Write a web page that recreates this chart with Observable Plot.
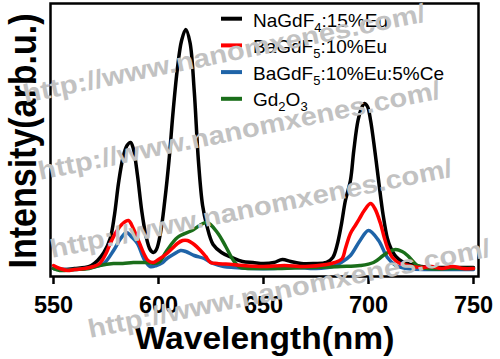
<!DOCTYPE html>
<html><head><meta charset="utf-8">
<script src="https://cdn.jsdelivr.net/npm/d3@7"></script>
<script src="https://cdn.jsdelivr.net/npm/@observablehq/plot@0.6"></script>
<style>
body{margin:0;background:#fff;}
#chart{position:relative;width:500px;height:359px;overflow:hidden;}
</style></head><body><div id="chart"></div>
<script>
// Series (wavelength nm, intensity a.u.)
const seriesNames = ["NaGdF4:15%Eu", "BaGdF5:10%Eu", "BaGdF5:10%Eu:5%Ce", "Gd2O3"];
const seriesColors = ["#000000", "#ff0000", "#1f64a8", "#1a6e1a"];
const legendParts = [["NaGdF", "4", ":15%Eu"], ["BaGdF", "5", ":10%Eu"], ["BaGdF", "5", ":10%Eu:5%Ce"], ["Gd", "2", "O", "3"]];

const naGdF4 = [[550,8],[555,7],[560,8],[565,9],[568,11],[571,16],[574,24],[577,38],[579,61],[581,94],[583,118],[585,131],[586.7,134],[588,128],[590,101],[592,66],[594,41],[596,27],[597.6,24],[599,27],[601,44],[603,76],[605,116],[607,166],[609,208],[611,236],[613,247],[615,234],[617,186],[619,116],[621,71],[623,51],[626,32],[630,24],[635,19],[640,15],[645,14],[650,13],[655,14],[659,17],[663,15],[668,13],[674,13],[680,14],[683,19],[685,31],[687,51],[689,76],[691.4,96],[693,126],[695,156],[697,170],[698,173],[699.5,170],[701,156],[703,126],[704.8,96],[707,61],[709,38],[710.5,29],[713,20],[716,15],[720,12],[725,10],[730,9],[740,9],[750,9]];
const baGdF5Eu = [[550,11],[553,8],[556.7,6],[560,7],[565,8],[569,10],[572,13],[575,23],[577,33],[580,45],[583,53],[585.7,56],[588,48],[591,33],[593,23],[595,16],[597.6,14],[600,17],[604,23],[607,29],[609,33],[611.5,36],[613.8,36],[617,32],[620,26],[622.5,20],[624.8,14],[628,13],[635,12],[640,11],[650,10],[660,11],[670,10],[680,12],[684,14],[687.5,18],[689,28],[691.4,43],[694,52],[696,59],[698,66],[701,73],[703,68],[705.7,53],[707.5,39],[709,29],[711.4,19],[715,13],[719,11],[725,9],[730,10],[735,8],[740,10],[745,8],[750,8]];
const baGdF5EuCe = [[550,8],[555,7],[560,7],[565,8],[570,10],[574,13],[578.6,26],[582,38],[584.8,44],[587,40],[590,33],[593,18],[596,10],[599,11],[602,14],[604,18],[607,22],[610.5,26],[613,25],[617,21],[621.7,18],[626,13],[631,10],[636,9],[645,8],[655,8],[665,9],[675,8],[683,10],[687,14],[691.4,21],[696,36],[700,46],[704.8,36],[709,19],[713,11],[718,8],[730,7],[750,7]];
const gd2O3 = [[550,8],[553,6],[560,7],[567,8],[572,11],[578.6,13],[583,13],[588,14],[594,14],[600,14],[604,26],[609,39],[616,46],[623,54],[628,44],[632,30],[635.7,16],[639,9],[645,8],[655,8],[670,9],[686.7,10],[696,11],[702.4,14],[707,21],[710,25],[712.9,27],[716,25],[718.6,21],[723.3,11],[728,8],[740,8],[750,8]];

const xTicks = [550, 600, 650, 700, 750];
const xLabel = "Wavelength(nm)";
const yLabel = "Intensity(arb.u.)";
const watermarkText = "http://www.nanomxenes.com/";

const seriesData = [naGdF4, baGdF5Eu, baGdF5EuCe, gd2O3];
const drawOrder = [0, 2, 3, 1];
const font = "'Liberation Sans', Arial, Helvetica, sans-serif";

const plot = Plot.plot({
  width: 500, height: 359,
  marginLeft: 50, marginRight: 22, marginTop: 3, marginBottom: 83,
  style: {fontFamily: font, background: "#fff", color: "#000"},
  x: {domain: [550, 750], insetLeft: 3, insetRight: 5},
  y: {domain: [0, 273], axis: null},
  marks: [
    ...drawOrder.map(i => Plot.line(seriesData[i], {
      x: d => d[0], y: d => d[1], stroke: seriesColors[i], strokeWidth: 3.5, curve: "catmull-rom"
    })),
    Plot.frame({stroke: "#000", strokeWidth: 2.5}),
    Plot.axisX({ticks: xTicks, tickSize: 8, tickPadding: 12, fontSize: 23.5, fontWeight: "bold", strokeWidth: 2.5, label: null, tickFormat: d => String(d)}),
    Plot.text([xLabel], {frameAnchor: "bottom", dy: 72, lineAnchor: "bottom", textAnchor: "middle", text: d => d, fontSize: 30.5, fontWeight: "bold"}),
    Plot.text([yLabel], {frameAnchor: "left", dx: -15, dy: 1, rotate: -90, lineAnchor: "bottom", textAnchor: "middle", text: d => d, fontSize: 34, fontWeight: "bold"})
  ]
});
document.getElementById("chart").appendChild(plot);

const svg = d3.select(plot);
svg.selectAll("text").each(function() {
  const t = this.textContent;
  const tr = this.getAttribute("transform") || "";
  if (t === xLabel) this.setAttribute("transform", tr + " scale(1.1,1)");
  if (t === yLabel) this.setAttribute("transform", tr + " scale(1,1.13)");
});

// Legend
const lg = svg.append("g").attr("font-family", font).attr("font-size", 19).attr("fill", "#000").attr("text-anchor", "start");
legendParts.forEach((parts, i) => {
  const yc = 18.7 + 26.7 * i;
  lg.append("line").attr("x1", 221).attr("x2", 242).attr("y1", yc).attr("y2", yc)
    .attr("stroke", seriesColors[i]).attr("stroke-width", 4);
  const t = lg.append("text").attr("x", 253).attr("y", 27 + 26.3 * i);
  parts.forEach((p, j) => {
    const sub = j % 2 === 1;
    const ts = t.append("tspan").text(p);
    if (sub) ts.attr("font-size", 13).attr("dy", 5);
    else if (j > 0) ts.attr("dy", -5);
  });
});

// Watermark
const wm = svg.append("g").attr("font-family", font).attr("font-weight", "bold")
  .attr("font-size", 26).attr("fill", "#c2c2c2").attr("text-anchor", "start");
[[25, 103], [40, 180], [52, 258], [90, 338]].forEach(([x, y]) => {
  wm.append("text").attr("transform", `translate(${x},${y}) rotate(-11.5)`)
    .attr("textLength", 410).attr("lengthAdjust", "spacingAndGlyphs").text(watermarkText);
});
</script></body></html>
